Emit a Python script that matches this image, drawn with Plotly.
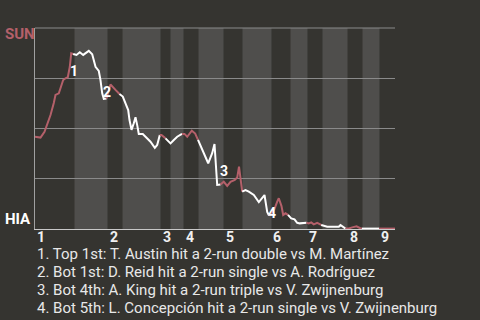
import plotly.graph_objects as go

# ---- data ----
# game progress (0-100) and SUN win probability
progress = [0, 1.53, 2.64, 3.39, 4.31, 5.22, 5.69, 6.61, 7.28, 7.83, 8.47, 9.11, 9.67, 10.06, 10.61,
            11.53, 12.44, 13.39, 14.94, 15.89, 16.81, 17.72, 18.19, 18.67, 19.11, 19.86,
            20.97, 22.36, 23.47, 24.39,
            25.14, 25.89, 26.25, 26.81, 27.44, 27.92, 28.39, 28.83, 29.94, 30.69, 32.08, 33.28, 33.94, 34.67,
            35.14, 36.25, 37.64,
            38.56, 39.5, 40.83,
            41.53, 42.28, 43.56, 44.5, 45.28,
            45.97, 46.89, 48.11, 49.22, 49.86, 50.61, 51.53,
            52.44, 53.39, 54.31, 55.5, 56.17, 56.67, 57.08, 57.56,
            58.47, 59.39, 60.78, 62.17, 63.11, 63.75, 64.5, 65.0,
            66.53, 67.28, 67.72, 68.47, 68.94, 69.58, 70.28,
            71.17, 72.08, 72.83, 73.56, 74.67, 75.42,
            76.06, 76.72, 77.44, 78.39, 79.5,
            80.22, 81.17, 84.39, 84.86, 86.25,
            87.17, 88.11, 89.31, 90.22, 90.8,
            91.81, 95.56,
            96.0, 100]
sun_wp = [0.459, 0.455, 0.484, 0.517, 0.567, 0.627, 0.667, 0.675, 0.708, 0.741, 0.750, 0.755, 0.807, 0.874, 0.871,
          0.866, 0.879, 0.866, 0.886, 0.869, 0.807, 0.786, 0.741, 0.675, 0.647, 0.649,
          0.719, 0.692, 0.672, 0.659,
          0.625, 0.592, 0.542, 0.493, 0.526, 0.556, 0.517, 0.473, 0.473, 0.459, 0.434, 0.404, 0.418, 0.468,
          0.468, 0.451, 0.426,
          0.443, 0.459, 0.473,
          0.473, 0.459, 0.489, 0.475, 0.443,
          0.413, 0.377, 0.327, 0.377, 0.423, 0.219, 0.221,
          0.235, 0.214, 0.235, 0.244, 0.256, 0.310, 0.252, 0.186,
          0.194, 0.186, 0.169, 0.134, 0.153, 0.169, 0.085, 0.067,
          0.100, 0.136, 0.153, 0.114, 0.070, 0.078, 0.070,
          0.053, 0.048, 0.031, 0.028, 0.031, 0.031,
          0.028, 0.033, 0.023, 0.031, 0.020,
          0.015, 0.011, 0.011, 0.020, 0.002,
          0.003, 0.008, 0.013, 0.005, 0.002,
          0.002, 0.002,
          0.002, 0.002]

# half-inning start positions (top 1, bot 1, top 2, ...), last = end of game
half_starts = [0, 10.97, 20.14, 24.31, 34.86, 37.64, 41.25, 45.42, 52.36, 57.64,
               65.69, 70.97, 75.69, 79.86, 86.81, 90.97, 95.69, 100]
inning_labels = ["1", "2", "3", "4", "5", "6", "7", "8", "9"]

event_numbers = ["1", "2", "3", "4"]
event_label_x = [10.97, 19.86, 52.5, 65.97]
event_label_wp = [0.786, 0.682, 0.291, 0.082]
event_texts = [
    "1. Top 1st: T. Austin hit a 2-run double vs M. Martínez",
    "2. Bot 1st: D. Reid hit a 2-run single vs A. Rodríguez",
    "3. Bot 4th: A. King hit a 2-run triple vs V. Zwijnenburg",
    "4. Bot 5th: L. Concepción hit a 2-run single vs V. Zwijnenburg",
]
away_team, home_team = "SUN", "HIA"

# ---- styles ----
BG = "rgb(53,52,48)"
BAND = "rgb(79,78,76)"
RED = "#b4606a"
WHITE = "#ffffff"
GRID = "#8a8a8a"
FONT = "Roboto"

fig = go.Figure()

# one trace per half inning, coloured by batting team
n_half = len(half_starts) - 1
for h in range(n_half):
    lo, hi = half_starts[h], half_starts[h + 1]
    idx = [i for i, x in enumerate(progress) if (lo <= x < hi) or (h == n_half - 1 and x == hi)]
    if not idx:
        continue
    if idx[0] > 0:
        idx = [idx[0] - 1] + idx
    fig.add_trace(go.Scatter(
        x=[progress[i] for i in idx], y=[sun_wp[i] for i in idx],
        mode="lines", line=dict(color=RED if h % 2 == 0 else WHITE, width=2),
        hoverinfo="skip", showlegend=False, cliponaxis=False))

# bands for bottom halves
for h in range(1, n_half, 2):
    fig.add_shape(type="rect", xref="x", yref="paper", x0=half_starts[h], x1=half_starts[h + 1],
                  y0=0, y1=1, fillcolor=BAND, line_width=0, layer="below")
# top border line (100%)
fig.add_shape(type="line", xref="paper", yref="paper", x0=0, x1=1, y0=1, y1=1,
              line=dict(color=GRID, width=1), layer="below")

annotations = []
for t, x, y in zip(event_numbers, event_label_x, event_label_wp):
    annotations.append(dict(x=x, y=y, xref="x", yref="y", text=t, showarrow=False,
                            font=dict(family=FONT, size=14, color=WHITE, weight="bold")))
# inning tick labels
for t, x in zip(inning_labels, half_starts[0:-1:2]):
    annotations.append(dict(x=x, y=-0.038, xref="x", yref="paper", text=t, showarrow=False,
                            xanchor="left", yanchor="middle", xshift=0,
                            font=dict(family=FONT, size=14, color="#f0f0f0", weight="bold")))
for k, t in enumerate(event_texts):
    annotations.append(dict(x=0.0, y=-0.123 - 0.0905 * k, xref="paper", yref="paper", text=t,
                            showarrow=False, xanchor="left", yanchor="middle",
                            font=dict(family=FONT, size=15, color="#e8e8e8")))
annotations.append(dict(x=-0.089, y=0.972, xref="paper", yref="paper", text=away_team, showarrow=False,
                        xanchor="left", yanchor="middle",
                        font=dict(family=FONT, size=15, color=RED, weight="bold")))
annotations.append(dict(x=-0.089, y=0.050, xref="paper", yref="paper", text=home_team, showarrow=False,
                        xanchor="left", yanchor="middle",
                        font=dict(family=FONT, size=15, color=WHITE, weight="bold")))

fig.update_layout(
    width=480, height=320,
    margin=dict(l=35, r=85, t=28, b=91),
    paper_bgcolor=BG, plot_bgcolor=BG,
    annotations=annotations,
    xaxis=dict(range=[0, 100], showgrid=False, zeroline=False,
               showline=True, linecolor="#c8c8c8", linewidth=1,
               showticklabels=False, ticks=""),
    yaxis=dict(range=[0, 1], showgrid=True, gridcolor=GRID, gridwidth=1, zeroline=False,
               tickmode="array", tickvals=[0.25, 0.5, 0.75, 1.0], showticklabels=False,
               showline=True, linecolor="#a0a0a0", linewidth=1),
)

fig.write_html("out.html")
